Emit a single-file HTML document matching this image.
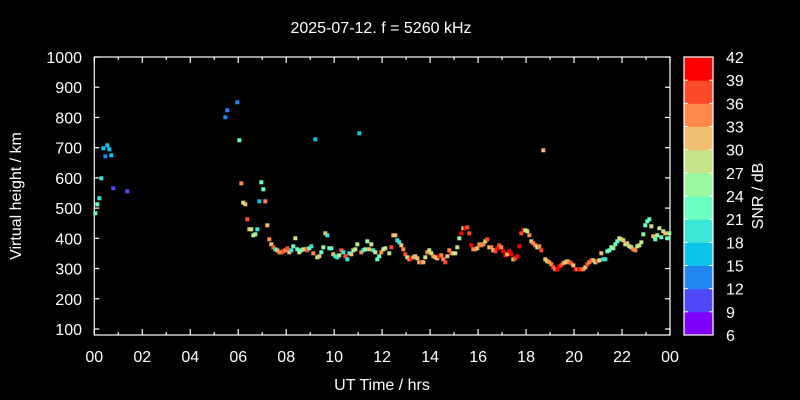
<!DOCTYPE html>
<html><head><meta charset="utf-8"><style>
html,body{margin:0;padding:0;background:#000;}
svg{display:block;}
text{font-family:"Liberation Sans",sans-serif;fill:#fff;}
</style></head><body>
<svg id="s" width="800" height="400" xmlns="http://www.w3.org/2000/svg">
<rect width="800" height="400" fill="#000"/>
<text x="381" y="33" font-size="16" text-anchor="middle">2025-07-12. f = 5260 kHz</text>
<text x="382" y="390" font-size="16" text-anchor="middle">UT Time / hrs</text>
<text transform="translate(21,196) rotate(-90)" font-size="16" text-anchor="middle">Virtual height / km</text>
<text transform="translate(763,196) rotate(-90)" font-size="16" text-anchor="middle">SNR / dB</text>
<g id="ax" stroke="#fff" stroke-width="1.2" fill="none"></g>
<g id="lbl" font-size="16"></g>
<g id="pts"></g>
<g id="cb"></g>
</svg>
<script>
var NS="http://www.w3.org/2000/svg";
function el(p,t,a,txt){var e=document.createElementNS(NS,t);for(var k in a)e.setAttribute(k,a[k]);if(txt!=null)e.textContent=txt;document.getElementById(p).appendChild(e);return e;}
var L=94.3,R=670,T=57,B=335;
el("ax","rect",{x:L,y:T,width:R-L,height:B-T});
for(var v=100;v<=1000;v+=100){var y=57+(1000-v)*0.30222;
el("ax","line",{x1:L,y1:y,x2:L+5,y2:y});el("ax","line",{x1:R,y1:y,x2:R-5,y2:y});
el("lbl","text",{x:82,y:y+6,"text-anchor":"end"},String(v));}
for(var h=0;h<=24;h++){var x=L+h*(R-L)/24;var len=h%2==0?6:3;
el("ax","line",{x1:x,y1:B,x2:x,y2:B-len});el("ax","line",{x1:x,y1:T,x2:x,y2:T+len});
if(h%2==0){var s=(h%24<10?"0":"")+(h%24);el("lbl","text",{x:x,y:362,"text-anchor":"middle"},s);}}
var cols=["#8000ff","#5048f8","#2288f0","#0cc4e8","#3ce6d6","#6affc0","#9cf8a0","#c8e48a","#f0c070","#ff8a4a","#ff4a2a","#ff0000"];
var cx=684,cw=29,ch=(B-T)/12;
for(var i=0;i<12;i++){var y0=B-(i+1)*ch;el("cb","rect",{x:cx,y:y0,width:cw,height:ch+0.5,fill:cols[i]});}
for(var i=1;i<12;i++){var y=B-i*ch;el("cb","line",{x1:cx,y1:y,x2:cx+4,y2:y,stroke:"#fff","stroke-width":1});el("cb","line",{x1:cx+cw,y1:y,x2:cx+cw-4,y2:y,stroke:"#fff","stroke-width":1});}
el("cb","rect",{x:cx,y:T,width:cw,height:B-T,fill:"none",stroke:"#fff","stroke-width":1.2});
for(var i=0;i<=12;i++){var y=B-i*ch;el("lbl","text",{x:726,y:y+6},String(6+3*i));}
var C={p:"#5048f8",b:"#2288f0",c:"#0cc4e8",t:"#3ce6d6",m:"#6affc0",g:"#9cf8a0",y:"#c8e48a",n:"#f0c070",o:"#ff8a4a",r:"#ff4a2a",R:"#ff0000"};
var d="95.3,213.3,m 97.3,204.3,m 99.3,198.3,t 101.3,178.3,t 103.3,148.3,c 105.3,156.3,b 107.3,145.3,c 109.3,149.3,c 111.3,155.3,c 113.3,188.3,p 127.3,191.3,p 225.3,117.3,b 227.3,110.3,b 237.3,102.3,b 239.3,140.3,m 241.3,183.3,o 243.3,202.7,y 245.3,204.3,n 247.3,219.3,r 249.3,229.3,n 251.3,229.3,y 253.3,235.3,y 255.3,234.3,g 257.3,229.3,t 259.3,201.3,c 261.3,182.3,m 263.3,189.3,m 265.3,201.3,o 267.3,225.3,n 269.3,239.3,o 271.3,244.3,n 273.3,247.3,r 275.3,249.3,t 277.3,250.3,n 279.3,252.3,o 281.3,252.3,o 283.3,251.3,r 285.3,250.3,o 287.3,248.3,r 289.3,252.3,n 291.3,250.3,t 293.3,246.3,m 295.3,238.3,y 297.3,249.3,m 299.3,252.3,y 301.3,250.3,m 303.3,249.3,y 305.3,249.3,n 307.3,250.3,r 309.3,248.3,m 311.3,246.3,t 313.3,253.3,o 315.3,139.3,c 317.3,257.3,y 319.3,256.3,n 321.3,252.3,m 323.3,247.3,g 325.3,233.3,n 327.3,235.3,t 329.3,248.3,m 331.3,248.3,m 333.3,254.3,n 335.3,256.3,t 337.3,257.3,t 339.3,255.3,y 341.3,250.3,r 343.3,252.3,t 345.3,256.3,r 347.3,259.3,t 349.3,253.3,t 351.3,254.3,n 353.3,250.3,y 355.3,249.3,y 357.3,244.3,y 359.3,133.3,c 361.3,252.3,o 363.3,250.3,t 365.3,249.3,g 367.3,241.3,g 369.3,249.3,n 371.3,244.3,y 373.3,250.3,t 375.3,252.3,y 377.3,259.3,m 379.3,256.3,m 381.3,252.3,o 383.3,249.3,y 385.3,248.3,y 389.3,253.3,y 391.3,247.3,r 393.3,235.3,n 395.3,235.3,n 397.3,240.3,t 399.3,242.3,t 401.3,245.3,n 403.3,249.3,o 405.3,254.3,r 407.3,257.3,y 409.3,259.3,o 411.3,258.3,R 413.3,257.3,n 415.3,256.3,n 417.3,258.3,n 419.3,262.3,n 421.3,262.3,r 423.3,262.3,n 425.3,257.3,y 427.3,252.3,o 429.3,250.3,y 431.3,253.3,y 433.3,256.3,o 435.3,257.3,n 437.3,258.3,n 439.3,256.3,R 441.3,255.3,o 443.3,259.3,o 445.3,262.3,r 447.3,256.3,n 449.3,250.3,o 451.3,253.3,r 453.3,253.3,y 455.3,253.3,y 457.3,247.3,y 459.3,238.3,g 461.3,233.3,R 463.3,228.3,n 465.3,228.3,R 467.3,227.3,r 469.3,233.3,r 471.3,245.3,R 473.3,249.3,o 475.3,249.3,o 477.3,248.3,n 479.3,244.3,o 481.3,245.3,o 483.3,244.3,o 485.3,241.3,y 487.3,239.3,r 489.3,247.3,n 491.3,247.3,o 493.3,250.3,n 495.3,251.3,r 497.3,248.3,R 499.3,245.3,r 501.3,247.3,o 503.3,251.3,R 505.3,255.3,R 507.3,254.3,n 509.3,251.3,R 511.3,254.3,R 513.3,259.3,n 515.3,258.3,r 517.3,256.3,R 519.3,246.3,R 521.3,233.3,r 523.3,230.3,R 525.3,230.3,y 527.3,231.3,y 529.3,235.3,o 531.3,241.3,n 533.3,243.3,o 535.3,245.3,o 537.3,247.3,y 539.3,246.3,o 541.3,250.3,r 543.3,150.3,n 545.3,259.3,n 547.3,261.3,y 549.3,262.3,o 551.3,264.3,o 553.3,267.3,r 555.3,269.3,o 557.3,269.3,R 559.3,266.3,R 561.3,265.3,r 563.3,263.3,o 565.3,262.3,n 567.3,261.3,n 569.3,262.3,o 571.3,263.3,r 573.3,265.3,n 575.3,269.3,R 577.3,269.3,o 579.3,269.3,R 581.3,269.3,r 583.3,269.3,o 585.3,267.3,n 587.3,264.3,r 589.3,262.3,o 591.3,260.3,r 593.3,260.3,n 595.3,262.3,y 597.3,261.3,r 599.3,260.3,y 601.3,253.3,n 603.3,259.3,t 605.3,259.3,t 607.3,251.3,m 609.3,250.3,m 611.3,247.3,g 613.3,248.3,g 615.3,244.3,m 617.3,241.3,m 619.3,238.3,y 621.3,239.3,y 623.3,240.3,n 625.3,244.3,y 627.3,243.3,n 629.3,246.3,y 631.3,247.3,y 633.3,249.3,o 635.3,250.3,o 637.3,246.3,y 639.3,245.3,y 641.3,242.3,y 643.3,234.3,g 645.3,225.3,m 647.3,221.3,m 649.3,219.3,m 651.3,226.3,y 653.3,236.3,n 655.3,239.3,m 657.3,235.3,g 659.3,228.3,y 661.3,237.3,m 663.3,231.3,y 665.3,233.3,n 667.3,238.3,m 669.3,233.3,g";
d.split(" ").forEach(function(s){var a=s.split(",");el("pts","rect",{x:(+a[0]-2).toFixed(1),y:(+a[1]-2).toFixed(1),width:4,height:4,fill:C[a[2]]});});
</script>
</body></html>
